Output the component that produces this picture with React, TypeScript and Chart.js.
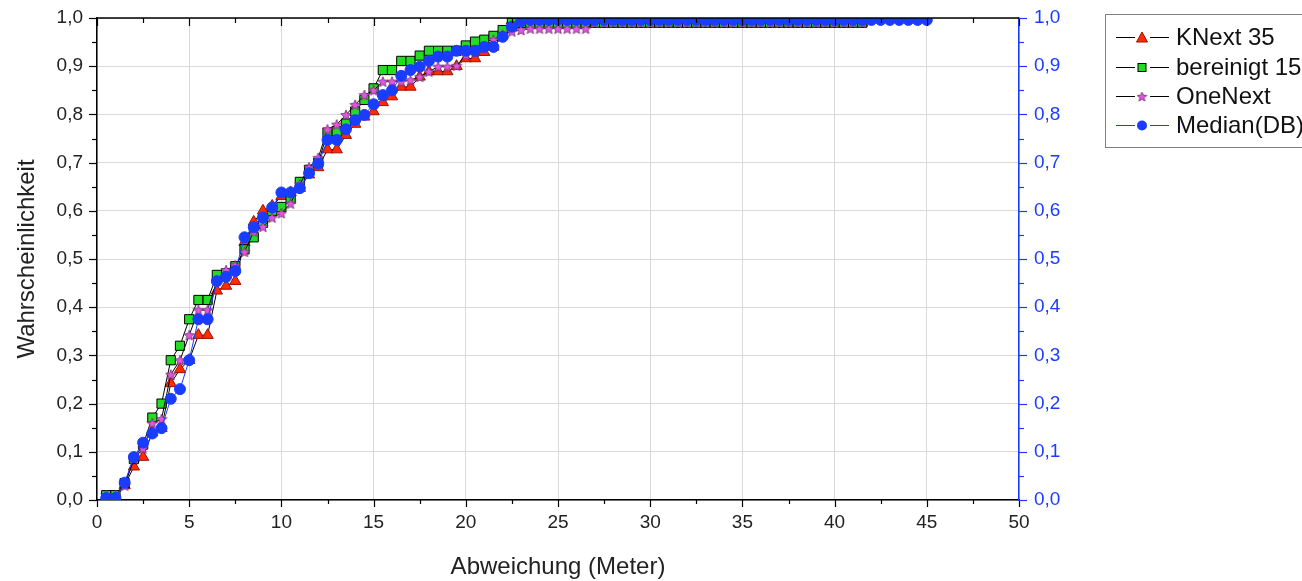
import React, { useEffect, useRef } from 'react';
import { Chart, registerables } from 'chart.js';

Chart.register(...registerables);

const FONT = '"Liberation Sans", Arial, Helvetica, sans-serif';

const seriesNames = ['KNext 35', 'bereinigt 15', 'OneNext', 'Median(DB)'];
const xTickLabels = ['0', '5', '10', '15', '20', '25', '30', '35', '40', '45', '50'];
const yTickLabels = ['0,0', '0,1', '0,2', '0,3', '0,4', '0,5', '0,6', '0,7', '0,8', '0,9', '1,0'];

const distances = [
  0.5, 1, 1.5, 2, 2.5, 3, 3.5, 4, 4.5, 5, 5.5, 6, 6.5, 7, 7.5, 8, 8.5, 9, 9.5, 10,
  10.5, 11, 11.5, 12, 12.5, 13, 13.5, 14, 14.5, 15, 15.5, 16, 16.5, 17, 17.5, 18, 18.5, 19, 19.5, 20,
  20.5, 21, 21.5, 22, 22.5, 23, 23.5, 24, 24.5, 25, 25.5, 26, 26.5, 27, 27.5, 28, 28.5, 29, 29.5, 30,
  30.5, 31, 31.5, 32, 32.5, 33, 33.5, 34, 34.5, 35, 35.5, 36, 36.5, 37, 37.5, 38, 38.5, 39, 39.5, 40,
  40.5, 41, 41.5, 42, 42.5, 43, 43.5, 44, 44.5, 45,
];

const knext35 = [
  0.005, 0.005, 0.03, 0.069, 0.089, 0.14, 0.149, 0.242, 0.271, 0.29,
  0.342, 0.342, 0.434, 0.444, 0.454, 0.535, 0.577, 0.6, 0.61, 0.63,
  0.638, 0.647, 0.675, 0.69, 0.727, 0.727, 0.757, 0.78, 0.795, 0.806,
  0.825, 0.837, 0.857, 0.857, 0.878, 0.889, 0.889, 0.889, 0.9, 0.916,
  0.916, 0.929, 0.94, 0.965, 0.995,
  0.99, 0.99, 0.99, 0.99, 0.99, 0.99, 0.99, 0.99, 0.99, 0.99,
  0.99, 0.99, 0.99, 0.99, 0.99, 0.99, 0.99, 0.99, 0.99, 0.99,
  0.99, 0.99, 0.99, 0.99, 0.99, 0.99, 0.99, 0.99, 0.99, 0.99,
  0.99, 0.99, 0.99, 0.99, 0.99, 0.99, 0.99, 0.99,
];

const bereinigt15 = [
  0.01, 0.01, 0.035, 0.085, 0.115, 0.171, 0.2, 0.29, 0.32, 0.375,
  0.415, 0.415, 0.467, 0.47, 0.485, 0.52, 0.545, 0.575, 0.6, 0.608,
  0.625, 0.66, 0.685, 0.7, 0.762, 0.765, 0.781, 0.806, 0.83, 0.854,
  0.892, 0.892, 0.911, 0.911, 0.922, 0.932, 0.932, 0.932, 0.932, 0.943,
  0.951, 0.955, 0.963, 0.975, 0.99,
  0.99, 0.99, 0.99, 0.99, 0.99, 0.99, 0.99, 0.99, 0.99, 0.99,
  0.99, 0.99, 0.99, 0.99, 0.99, 0.99, 0.99, 0.99, 0.99, 0.99,
  0.99, 0.99, 0.99, 0.99, 0.99, 0.99, 0.99, 0.99, 0.99, 0.99,
  0.99, 0.99, 0.99, 0.99, 0.99, 0.99, 0.99, 0.99,
];

const oneNext = [
  0.01, 0.01, 0.03, 0.085, 0.107, 0.159, 0.168, 0.26, 0.29, 0.342,
  0.394, 0.394, 0.455, 0.477, 0.487, 0.515, 0.557, 0.567, 0.586, 0.595,
  0.615, 0.655, 0.69, 0.71, 0.769, 0.779, 0.799, 0.82, 0.84, 0.85,
  0.868, 0.868, 0.868, 0.871, 0.878, 0.889, 0.899, 0.899, 0.901, 0.923,
  0.93, 0.94, 0.955, 0.965, 0.972,
  0.975, 0.978, 0.978, 0.978, 0.978, 0.978, 0.978, 0.978,
  0.99, 0.99, 0.99, 0.99, 0.99, 0.99, 0.99, 0.99, 0.99, 0.99,
  0.99, 0.99, 0.99, 0.99, 0.99, 0.99, 0.99, 0.99, 0.99, 0.99,
  0.99, 0.99, 0.99, 0.99, 0.99, 0.99, 0.99, 0.99, 0.99, 0.99,
];

const medianDB = [
  0.004, 0.004, 0.036, 0.089, 0.119, 0.138, 0.149, 0.21, 0.23, 0.29,
  0.375, 0.375, 0.454, 0.463, 0.475, 0.545, 0.566, 0.586, 0.607, 0.638,
  0.638, 0.647, 0.678, 0.698, 0.747, 0.747, 0.769, 0.788, 0.799, 0.821,
  0.84, 0.85, 0.88, 0.892, 0.899, 0.911, 0.92, 0.92, 0.932, 0.932,
  0.932, 0.94, 0.94, 0.961, 0.982,
  0.993, 0.996, 0.996, 0.996, 0.996, 0.996, 0.996, 0.996, 0.996, 0.996,
  0.996, 0.996, 0.996, 0.996, 0.996, 0.996, 0.996, 0.996, 0.996, 0.996,
  0.996, 0.996, 0.996, 0.996, 0.996, 0.996, 0.996, 0.996, 0.996, 0.996,
  0.996, 0.996, 0.996, 0.996, 0.996, 0.996, 0.996, 0.996, 0.996, 0.996,
  0.996, 0.996, 0.996, 0.996, 0.996,
];

const RED = '#ff2a00';
const GREEN = '#22dd22';
const PINK = '#e056e0';
const BLUE = '#1a3cff';

function pts(vals: number[]) {
  return vals.map((v, i) => ({ x: distances[i], y: v }));
}

function starPath(ctx: CanvasRenderingContext2D, cx: number, cy: number, R: number) {
  const r = R * 0.45;
  ctx.beginPath();
  for (let i = 0; i < 10; i++) {
    const a = -Math.PI / 2 + (i * Math.PI) / 5;
    const rr = i % 2 === 0 ? R : r;
    ctx.lineTo(cx + rr * Math.cos(a), cy + rr * Math.sin(a));
  }
  ctx.closePath();
}

function makeStar(size: number) {
  const c = document.createElement('canvas');
  c.width = size;
  c.height = size;
  const ctx = c.getContext('2d')!;
  starPath(ctx, size / 2, size / 2 + 0.5, size / 2 - 0.5);
  ctx.fillStyle = PINK;
  ctx.fill();
  ctx.strokeStyle = '#6a2a6a';
  ctx.lineWidth = 0.8;
  ctx.stroke();
  return c;
}

const tickMarksPlugin = {
  id: 'tickMarks',
  afterDraw(chart: any) {
    const { ctx, chartArea } = chart;
    const xs = chart.scales.x;
    const ys = chart.scales.y;
    ctx.save();
    ctx.lineWidth = 1.5;
    ctx.strokeStyle = '#000';
    ctx.beginPath();
    ctx.moveTo(chartArea.left, chartArea.top);
    ctx.lineTo(chartArea.right, chartArea.top);
    ctx.stroke();
    ctx.lineWidth = 1.2;
    for (let k = 0; k <= 20; k++) {
      const v = k * 2.5;
      const px = Math.round(xs.getPixelForValue(v)) + 0.5;
      const len = k % 2 === 0 ? 7 : 4;
      ctx.beginPath();
      ctx.moveTo(px, chartArea.bottom);
      ctx.lineTo(px, chartArea.bottom + len);
      ctx.moveTo(px, chartArea.top);
      ctx.lineTo(px, chartArea.top + len + 1);
      ctx.stroke();
    }
    for (let k = 0; k <= 20; k++) {
      const v = k * 0.05;
      const py = Math.round(ys.getPixelForValue(v)) + 0.5;
      const len = k % 2 === 0 ? 8 : 5;
      ctx.strokeStyle = '#000';
      ctx.beginPath();
      ctx.moveTo(chartArea.left, py);
      ctx.lineTo(chartArea.left - len, py);
      ctx.stroke();
      ctx.strokeStyle = BLUE;
      ctx.beginPath();
      ctx.moveTo(chartArea.right, py);
      ctx.lineTo(chartArea.right + len, py);
      ctx.stroke();
    }
    ctx.restore();
  },
};

const legendPlugin = {
  id: 'customLegend',
  afterDraw(chart: any) {
    const ctx: CanvasRenderingContext2D = chart.ctx;
    ctx.save();
    ctx.strokeStyle = '#808080';
    ctx.lineWidth = 1;
    ctx.strokeRect(1105.5, 14.5, 260, 133);
    const ys = [37, 67, 96, 125];
    const star = makeStar(11);
    seriesNames.forEach((name, i) => {
      const y = ys[i] + 0.5;
      ctx.strokeStyle = i === 3 ? BLUE : '#000';
      ctx.lineWidth = 1;
      ctx.beginPath();
      ctx.moveTo(1116, y);
      ctx.lineTo(1135, y);
      ctx.moveTo(1150, y);
      ctx.lineTo(1169, y);
      ctx.stroke();
      const cx = 1142;
      if (i === 0) {
        ctx.beginPath();
        ctx.moveTo(cx, y - 5.5);
        ctx.lineTo(cx + 5.5, y + 4.5);
        ctx.lineTo(cx - 5.5, y + 4.5);
        ctx.closePath();
        ctx.fillStyle = RED;
        ctx.fill();
        ctx.strokeStyle = '#a01000';
        ctx.stroke();
      } else if (i === 1) {
        ctx.fillStyle = GREEN;
        ctx.fillRect(cx - 4, y - 4, 8, 8);
        ctx.strokeStyle = '#000';
        ctx.strokeRect(cx - 4, y - 4, 8, 8);
      } else if (i === 2) {
        ctx.drawImage(star, cx - 5.5, y - 5.5);
      } else {
        ctx.beginPath();
        ctx.arc(cx, y, 5, 0, Math.PI * 2);
        ctx.fillStyle = BLUE;
        ctx.fill();
      }
      ctx.fillStyle = '#111';
      ctx.font = `24px ${FONT}`;
      ctx.textBaseline = 'middle';
      ctx.textAlign = 'left';
      ctx.fillText(name, 1176, ys[i] + 1);
    });
    ctx.restore();
  },
};

function fixVertical(width: number) {
  return (s: any) => {
    s.width = width;
    s.paddingTop = 0;
    s.paddingBottom = 0;
  };
}

export default function App() {
  const ref = useRef<HTMLCanvasElement | null>(null);

  useEffect(() => {
    document.body.style.margin = '0';
    const canvas = ref.current!;
    const star = makeStar(12);
    const lineBase = {
      showLine: true,
      borderWidth: 1,
      pointBorderWidth: 1,
      pointHoverRadius: 5,
    };
    const chart = new Chart(canvas, {
      type: 'scatter',
      data: {
        datasets: [
          {
            ...lineBase,
            label: seriesNames[0],
            data: pts(knext35),
            borderColor: '#000',
            pointStyle: 'triangle',
            pointRadius: 6.5,
            pointBackgroundColor: RED,
            pointBorderColor: '#a01000',
            order: 4,
          },
          {
            ...lineBase,
            label: seriesNames[1],
            data: pts(bereinigt15),
            borderColor: '#000',
            pointStyle: 'rect',
            pointRadius: 6.5,
            pointBackgroundColor: GREEN,
            pointBorderColor: '#000',
            order: 3,
          },
          {
            ...lineBase,
            label: seriesNames[2],
            data: pts(oneNext),
            borderColor: '#000',
            pointStyle: star as any,
            pointRadius: 6,
            pointBackgroundColor: PINK,
            pointBorderColor: '#6a2a6a',
            order: 2,
          },
          {
            ...lineBase,
            label: seriesNames[3],
            data: pts(medianDB),
            borderColor: BLUE,
            pointStyle: 'circle',
            pointRadius: 5.5,
            pointBackgroundColor: BLUE,
            pointBorderColor: BLUE,
            order: 1,
          },
        ],
      },
      options: {
        animation: false,
        responsive: false,
        devicePixelRatio: 1,
        layout: { autoPadding: false, padding: { left: 0, right: 203, top: 18, bottom: 0 } },
        plugins: {
          legend: { display: false },
          tooltip: { enabled: false },
        },
        scales: {
          x: {
            type: 'linear',
            position: 'bottom',
            min: 0,
            max: 50,
            afterFit: (s: any) => {
              s.height = 81;
              s.paddingLeft = 0;
              s.paddingRight = 0;
            },
            ticks: {
              stepSize: 5,
              padding: 11,
              color: '#222',
              font: { family: FONT, size: 19 },
              callback: (v: any) => xTickLabels[Math.round(Number(v) / 5)] ?? '',
            },
            grid: { color: '#d9d9d9', drawTicks: false },
            border: { color: '#000', width: 1.5 },
            title: {
              display: true,
              text: 'Abweichung (Meter)',
              color: '#222',
              font: { family: FONT, size: 24 },
              padding: { top: 0, bottom: -1 },
            },
          },
          y: {
            type: 'linear',
            position: 'left',
            min: 0,
            max: 1,
            afterFit: fixVertical(97),
            ticks: {
              stepSize: 0.1,
              padding: 14,
              color: '#222',
              font: { family: FONT, size: 19 },
              callback: (v: any) => yTickLabels[Math.round(Number(v) * 10)] ?? '',
            },
            grid: { color: '#d9d9d9', drawTicks: false },
            border: { color: '#000', width: 1.5 },
            title: {
              display: true,
              text: 'Wahrscheinlichkeit',
              color: '#222',
              font: { family: FONT, size: 24 },
              padding: { top: 13, bottom: 0 },
            },
          },
          y2: {
            type: 'linear',
            position: 'right',
            min: 0,
            max: 1,
            afterFit: fixVertical(80),
            ticks: {
              stepSize: 0.1,
              padding: 15,
              color: BLUE,
              font: { family: FONT, size: 19 },
              callback: (v: any) => yTickLabels[Math.round(Number(v) * 10)] ?? '',
            },
            grid: { drawOnChartArea: false, drawTicks: false },
            border: { color: BLUE, width: 1.5 },
          },
        },
      },
      plugins: [tickMarksPlugin, legendPlugin],
    } as any);
    return () => chart.destroy();
  }, []);

  return (
    <div style={{ width: 1302, height: 581, background: '#fff' }}>
      <canvas ref={ref} width={1302} height={581} style={{ display: 'block' }} />
    </div>
  );
}
